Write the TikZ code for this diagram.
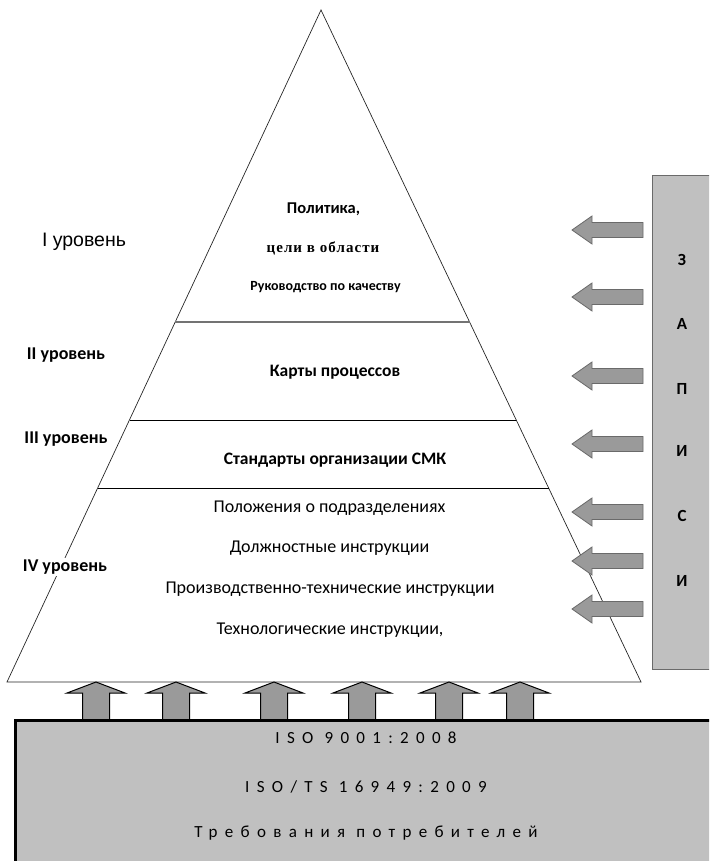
\documentclass[tikz,border=0pt]{standalone}
\usepackage{fontspec}
\setmainfont{Carlito}
\newfontfamily\arialf{Liberation Sans}
\newfontfamily\seriff[LetterSpace=7]{Liberation Serif}
\newfontfamily\spacedf[LetterSpace=43]{Carlito}
\definecolor{boxgray}{HTML}{C0C0C0}
\definecolor{arrgray}{HTML}{9A9A9A}
\definecolor{arredge}{HTML}{6A6A6A}
\begin{document}
\begin{tikzpicture}[x=1pt,y=-1pt,
  lvl/.style={font=\fontsize{18}{20}\selectfont\bfseries, inner sep=2pt, fill=white},
  doc/.style={font=\fontsize{18}{20}\selectfont, inner sep=0pt},
  docb/.style={font=\fontsize{17.5}{20}\selectfont\bfseries, inner sep=0pt},
  topt/.style={font=\fontsize{14}{16}\selectfont\bfseries, inner sep=0pt},
  letter/.style={font=\fontsize{17}{19}\selectfont\bfseries, inner sep=0pt},
  isot/.style={font=\fontsize{17}{19}\selectfont\spacedf, inner sep=0pt},
  leftarr/.pic={\draw[fill=arrgray, draw=arredge, line width=0.8pt]
     (0,-7.5) -- (-51,-7.5) -- (-51,-14) -- (-71,0) -- (-51,14) -- (-51,7.5) -- (0,7.5) -- cycle;},
  uparr/.pic={\draw[fill=arrgray, draw=black, line width=1pt]
     (-13.5,0) -- (-13.5,-27) -- (-29,-27) -- (0,-38) -- (29,-27) -- (13.5,-27) -- (13.5,0) -- cycle;}
]
\useasboundingbox (0,0) rectangle (709,861);
\clip (0,0) rectangle (709,861);
% pyramid
\coordinate (apex) at (321,10);
\coordinate (bl) at (7,682);
\coordinate (br) at (641,682);
\draw[line width=0.7pt, draw=black!85] (apex) -- (br) -- (bl) -- cycle;
\coordinate (l1a) at (175.3,322); \coordinate (l1b) at (469.6,322);
\coordinate (l2a) at (129.6,420); \coordinate (l2b) at (516.2,420);
\coordinate (l3a) at (97.7,488); \coordinate (l3b) at (548.6,488);
\draw[line width=1.3pt, draw=black!55] (l1a) -- (l1b);
\draw[line width=0.8pt] (l2a) -- (l2b);
\draw[line width=0.8pt] (l3a) -- (l3b);
% level texts
\node[font=\fontsize{19.5}{22}\selectfont\arialf, inner sep=0pt] (lv1) at (84,242) {I уровень};
\node[lvl] (lv2) at (66,355) {II уровень};
\node[lvl] (lv3) at (66,439) {III уровень};
\node[lvl] (lv4) at (65,567) {IV уровень};
% contents
\node[font=\fontsize{16.5}{18}\selectfont\bfseries, inner sep=0pt] (t1) at (323.5,209) {Политика,};
\node[font=\fontsize{15}{17}\selectfont\seriff\bfseries, inner sep=0pt] (t2) at (323,248) {цели в области};
\node[topt] (t3) at (325.5,287) {Руководство по качеству};
\node[docb] (t4) at (335,372) {Карты процессов};
\node[docb] (t5) at (335,460) {Стандарты организации СМК};
\node[doc] (t6) at (329.5,508) {Положения о подразделениях};
\node[doc] (t7) at (329.5,548) {Должностные инструкции};
\node[doc] (t8) at (330,589) {Производственно-технические инструкции};
\node[doc] (t9) at (330,630) {Технологические инструкции,};
% records box
\draw[fill=boxgray, draw=arredge, line width=1pt] (652.5,176) rectangle (720,669);
\foreach \yy/\ll/\nn in {260/З/z1, 324/А/z2, 389/П/z3, 451/И/z4, 516/С/z5, 581/И/z6}
  \node[letter] (\nn) at (682,\yy) {\ll};
\foreach \yy in {230,297,376,444,512,561,609}
  \pic at (643,\yy) {leftarr};
% up arrows
\foreach \xx in {96,176,274,362,449,520}
  \pic at (\xx,720) {uparr};
% base box
\draw[fill=boxgray, draw=black, line width=3pt] (15.5,720) rectangle (730,880);
\node[isot] (b1) at (366,738) {ISO 9001:2008};
\node[isot] (b2) at (366,787) {ISO/TS 16949:2009};
\node[isot] (b3) at (366,833) {Требования потребителей};
\end{tikzpicture}
\end{document}
